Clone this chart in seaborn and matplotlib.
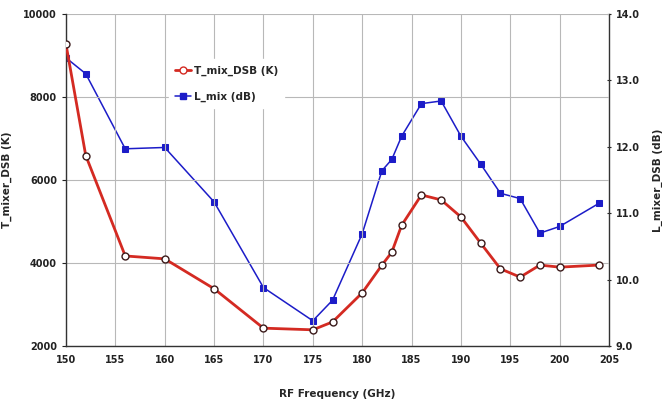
import matplotlib
matplotlib.use("Agg")
import matplotlib.pyplot as plt
import seaborn as sns
import pandas as pd
from matplotlib.lines import Line2D

freq_t = [150, 152, 156, 160, 165, 170, 175, 177, 180, 182, 183, 184, 186, 188, 190, 192, 194, 196, 198, 200, 204]
t_mix = [9270, 6590, 4170, 4100, 3380, 2430, 2390, 2580, 3280, 3950, 4260, 4910, 5640, 5520, 5110, 4480, 3860, 3660, 3950, 3900, 3950]

freq_l = [150, 152, 156, 160, 165, 170, 175, 177, 180, 182, 183, 184, 186, 188, 190, 192, 194, 196, 198, 200, 204]
l_mix = [13.34, 13.10, 11.97, 11.99, 11.17, 9.88, 9.38, 9.69, 10.69, 11.64, 11.81, 12.16, 12.65, 12.69, 12.16, 11.74, 11.30, 11.22, 10.70, 10.80, 11.15]

x_ticks = list(range(150, 206, 5))
y_left_ticks = [2000, 4000, 6000, 8000, 10000]
y_right_ticks = [9.0, 10.0, 11.0, 12.0, 13.0, 14.0]

sns.set_style("white")
plt.rcParams['font.family'] = ['DejaVu Sans']
plt.rcParams['font.weight'] = 'bold'

df_t = pd.DataFrame({"f": freq_t, "t": t_mix})
df_l = pd.DataFrame({"f": freq_l, "l": l_mix})

fig = plt.figure(figsize=(6.62, 4.04), dpi=100)
ax = fig.add_axes([66/662, 1 - 346/404, (609-66)/662, (346-14)/404])
ax2 = ax.twinx()

red = "#d42a22"
blue = "#1c1cc8"

sns.lineplot(data=df_l, x="f", y="l", ax=ax2, color=blue, linewidth=1.1,
             marker="s", markersize=4.5, markeredgecolor=blue, markerfacecolor=blue)
sns.lineplot(data=df_t, x="f", y="t", ax=ax, color=red, linewidth=2.0,
             marker="o", markersize=5, markerfacecolor="white", markeredgecolor="#3a1a1a",
             markeredgewidth=1.0, zorder=5)

ax.set_zorder(ax2.get_zorder() + 1)
ax.patch.set_visible(False)

ax.set_xlim(150, 205)
ax.set_ylim(2000, 10000)
ax2.set_ylim(9.0, 14.0)
ax.set_xticks(x_ticks)
ax.set_yticks(y_left_ticks)
ax2.set_yticks(y_right_ticks)
ax2.set_yticklabels([f"{v:.1f}" for v in y_right_ticks])

ax.grid(True, color="#b8b8b8", linewidth=0.8)
ax2.grid(False)
for a in (ax, ax2):
    for s in a.spines.values():
        s.set_visible(False)
ax.spines['left'].set_visible(True)
ax.spines['bottom'].set_visible(True)
ax2.spines['right'].set_visible(True)
for s in (ax.spines['left'], ax.spines['bottom'], ax2.spines['right']):
    s.set_color("#333333")
    s.set_linewidth(1.0)

ax.tick_params(axis='both', labelsize=7, length=3, direction='out', colors="#222222", left=True, bottom=False)
ax2.tick_params(axis='y', labelsize=7, length=3, direction='inout', colors="#222222", right=True)

ax.set_xlabel("RF Frequency (GHz)", fontsize=7.5, fontweight='bold', labelpad=17)
ax.set_ylabel("T_mixer_DSB (K)", fontsize=7.5, fontweight='bold', labelpad=8)
ax2.set_ylabel("L_mixer_DSB (dB)", fontsize=7.5, fontweight='bold', labelpad=9)

handles = [
    Line2D([], [], color=red, linewidth=2.0, marker="o", markersize=5,
           markerfacecolor="white", markeredgecolor=red),
    Line2D([], [], color=blue, linewidth=1.1, marker="s", markersize=4.5,
           markerfacecolor=blue, markeredgecolor=blue),
]
leg = ax.legend(handles, ["T_mix_DSB (K)", "L_mix (dB)"], loc="upper left",
                bbox_to_anchor=(0.18, 0.88), frameon=True, fontsize=7.5,
                handlelength=1.5, handletextpad=0.3, labelspacing=1.55,
                borderpad=0.6)
leg.get_frame().set_facecolor("white")
leg.get_frame().set_edgecolor("white")
leg.get_frame().set_alpha(1.0)
for t in leg.get_texts():
    t.set_fontweight('bold')

fig.savefig("out.png", dpi=100)
